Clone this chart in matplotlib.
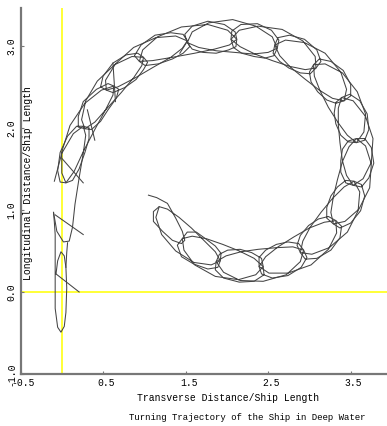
#!/usr/bin/env python

import matplotlib
matplotlib.use("Agg")
import matplotlib.pyplot as plt
from matplotlib.transforms import ScaledTranslation

# all positions in ship lengths
# straight approach along x = 0 before the rudder takes effect
approach_x = [-0.07, -0.05, -0.01, 0.03, 0.05, 0.06, 0.05, 0.03, -0.01, -0.05,
              -0.08, -0.08, -0.08, -0.08, -0.09, -0.10]
approach_y = [0.22, 0.38, 0.49, 0.44, 0.30, 0.05, -0.25, -0.42, -0.49, -0.43,
              -0.20, 0.10, 0.45, 0.70, 0.85, 0.97]

# second strand of the approach column
strand_x = [0.05, 0.06, 0.07]
strand_y = [0.30, 0.48, 0.60]

# turning circle, clockwise, one yaw loop per row (loops on the outer side)
turn_x = [
    -0.10, -0.06, 0.02, 0.09, 0.13, 0.16, 0.21, 0.26, 0.29, 0.26, 0.18, 0.07,
    -0.02, -0.05, -0.02, 0.05, 0.15, 0.26, 0.40, 0.53, 0.62, 0.63, 0.56, 0.42,
    0.26, 0.20, 0.20, 0.28, 0.40, 0.55, 0.72, 0.87, 0.97, 0.99, 0.92, 0.78,
    0.62, 0.50, 0.47, 0.54, 0.68, 0.89, 1.11, 1.32, 1.46, 1.52, 1.47, 1.32,
    1.13, 0.96, 0.88, 0.94, 1.10, 1.34, 1.61, 1.85, 2.03, 2.12, 2.10, 1.97,
    1.77, 1.58, 1.49, 1.52, 1.66, 1.87, 2.10, 2.32, 2.50, 2.61, 2.63, 2.54,
    2.37, 2.17, 2.06, 2.05, 2.16, 2.34, 2.55, 2.76, 2.95, 3.08, 3.14, 3.09,
    2.94, 2.76, 2.62, 2.58, 2.64, 2.77, 2.94, 3.12, 3.28, 3.42, 3.50, 3.50,
    3.41, 3.26, 3.12, 3.05, 3.06, 3.13, 3.23, 3.35, 3.46, 3.57, 3.67, 3.72,
    3.70, 3.61, 3.49, 3.39, 3.35, 3.35, 3.37, 3.40, 3.45, 3.53, 3.63, 3.72,
    3.78, 3.75, 3.67, 3.57, 3.48, 3.40, 3.34, 3.29, 3.26, 3.29, 3.37, 3.50,
    3.62, 3.67, 3.63, 3.54, 3.42, 3.28, 3.14, 3.01, 2.92, 2.89, 2.95, 3.09,
    3.26, 3.37, 3.39, 3.32, 3.18, 3.00, 2.81, 2.62, 2.47, 2.39, 2.42, 2.55,
    2.74, 2.90, 2.97, 2.93, 2.80, 2.60, 2.38, 2.17, 1.99, 1.87, 1.86, 1.96,
    2.15, 2.33, 2.45, 2.44, 2.33, 2.15, 1.95, 1.75, 1.58, 1.46, 1.40, 1.45,
    1.60, 1.77, 1.89, 1.92, 1.86, 1.72, 1.57, 1.42, 1.28, 1.18, 1.11, 1.11,
    1.22, 1.34, 1.45, 1.49, 1.46, 1.38, 1.28, 1.15, 1.05,
]
turn_y = [
    0.97, 0.74, 0.61, 0.62, 0.79, 1.07, 1.39, 1.69, 1.91, 2.02, 2.02, 1.90,
    1.70, 1.48, 1.34, 1.33, 1.47, 1.71, 1.98, 2.22, 2.40, 2.51, 2.54, 2.47,
    2.32, 2.14, 2.01, 1.99, 2.07, 2.24, 2.43, 2.61, 2.76, 2.86, 2.91, 2.89,
    2.79, 2.63, 2.50, 2.46, 2.50, 2.61, 2.74, 2.86, 2.97, 3.06, 3.14, 3.16,
    3.13, 3.01, 2.88, 2.81, 2.82, 2.86, 2.91, 2.96, 3.01, 3.08, 3.17, 3.26,
    3.30, 3.24, 3.14, 3.04, 2.98, 2.94, 2.92, 2.90, 2.92, 2.97, 3.07, 3.19,
    3.27, 3.26, 3.18, 3.08, 2.99, 2.90, 2.82, 2.75, 2.71, 2.73, 2.81, 2.95,
    3.08, 3.13, 3.10, 3.01, 2.88, 2.74, 2.60, 2.46, 2.36, 2.33, 2.39, 2.53,
    2.70, 2.81, 2.84, 2.77, 2.63, 2.45, 2.25, 2.06, 1.91, 1.82, 1.85, 1.98,
    2.17, 2.33, 2.41, 2.37, 2.24, 2.04, 1.82, 1.60, 1.42, 1.30, 1.28, 1.39,
    1.57, 1.76, 1.87, 1.87, 1.77, 1.59, 1.37, 1.16, 0.97, 0.83, 0.78, 0.84,
    0.99, 1.17, 1.31, 1.35, 1.28, 1.14, 0.97, 0.79, 0.62, 0.48, 0.40, 0.41,
    0.51, 0.66, 0.80, 0.87, 0.85, 0.78, 0.67, 0.55, 0.43, 0.31, 0.22, 0.17,
    0.20, 0.30, 0.42, 0.51, 0.55, 0.54, 0.52, 0.49, 0.44, 0.37, 0.27, 0.17,
    0.12, 0.13, 0.21, 0.31, 0.41, 0.50, 0.58, 0.65, 0.68, 0.65, 0.57, 0.43,
    0.34, 0.28, 0.30, 0.38, 0.49, 0.63, 0.78, 0.91, 1.01, 1.04, 0.98, 0.86,
    0.74, 0.63, 0.59, 0.63, 0.74, 0.90, 1.08, 1.15, 1.18,
]

# the other traced point of the hull (loops on the inner side)
turn2_x = [
    -0.09, 0.00, 0.14, 0.26, 0.33, 0.33,
    0.28, 0.21, 0.13, 0.05, 0.00, 0.00, 0.10, 0.28, 0.48, 0.63, 0.69, 0.66,
    0.56, 0.47, 0.36, 0.28, 0.24, 0.29, 0.43, 0.64, 0.85, 0.99, 1.04, 0.99,
    0.90, 0.76, 0.62, 0.54, 0.53, 0.65, 0.87, 1.14, 1.38, 1.52, 1.55, 1.47,
    1.34, 1.17, 1.01, 0.94, 0.98, 1.16, 1.45, 1.77, 2.01, 2.12, 2.11, 2.02,
    1.87, 1.71, 1.58, 1.52, 1.58, 1.78, 2.07, 2.35, 2.55, 2.61, 2.57, 2.46,
    2.33, 2.18, 2.08, 2.05, 2.15, 2.38, 2.67, 2.92, 3.07, 3.08, 3.01, 2.89,
    2.75, 2.64, 2.56, 2.58, 2.71, 2.94, 3.19, 3.38, 3.45, 3.42, 3.32, 3.21,
    3.10, 3.02, 3.00, 3.05, 3.19, 3.40, 3.58, 3.68, 3.66, 3.57, 3.47, 3.38,
    3.32, 3.30, 3.32, 3.39, 3.53, 3.68, 3.77, 3.75, 3.65, 3.53, 3.44, 3.38,
    3.38, 3.40, 3.47, 3.57, 3.68, 3.75, 3.73, 3.60, 3.43, 3.29, 3.21, 3.21,
    3.26, 3.34, 3.44, 3.54, 3.61, 3.59, 3.46, 3.24, 3.03, 2.89, 2.85, 2.89,
    2.99, 3.11, 3.23, 3.32, 3.33, 3.23, 3.02, 2.74, 2.51, 2.39, 2.39, 2.47,
    2.60, 2.74, 2.87, 2.93, 2.89, 2.72, 2.44, 2.16, 1.96, 1.87, 1.91, 2.01,
    2.16, 2.30, 2.42, 2.44, 2.35, 2.14, 1.86, 1.61, 1.48, 1.46, 1.52, 1.63,
    1.74, 1.86, 1.93, 1.92, 1.81, 1.60, 1.38, 1.21, 1.14, 1.18,
]
turn2_y = [
    1.35, 1.69, 1.93, 2.02, 2.00, 1.87,
    1.70, 1.50, 1.36, 1.33, 1.45, 1.71, 2.03, 2.30, 2.46, 2.51, 2.47, 2.36,
    2.22, 2.08, 1.98, 1.99, 2.10, 2.33, 2.57, 2.77, 2.87, 2.86, 2.80, 2.71,
    2.59, 2.49, 2.43, 2.46, 2.58, 2.78, 2.98, 3.10, 3.12, 3.06, 2.99, 2.91,
    2.84, 2.78, 2.76, 2.81, 2.95, 3.11, 3.23, 3.26, 3.19, 3.08, 2.99, 2.95,
    2.91, 2.92, 2.96, 3.04, 3.17, 3.28, 3.32, 3.24, 3.11, 2.97, 2.88, 2.85,
    2.87, 2.91, 2.98, 3.08, 3.19, 3.24, 3.20, 3.06, 2.87, 2.73, 2.66, 2.67,
    2.73, 2.81, 2.91, 3.01, 3.07, 3.04, 2.91, 2.68, 2.47, 2.33, 2.30, 2.34,
    2.44, 2.56, 2.68, 2.77, 2.78, 2.67, 2.44, 2.17, 1.95, 1.82, 1.83, 1.91,
    2.05, 2.18, 2.31, 2.37, 2.33, 2.14, 1.87, 1.58, 1.38, 1.30, 1.33, 1.46,
    1.60, 1.74, 1.84, 1.87, 1.78, 1.56, 1.27, 1.01, 0.86, 0.83, 0.90, 1.03,
    1.17, 1.28, 1.36, 1.35, 1.22, 0.99, 0.73, 0.54, 0.46, 0.48, 0.57, 0.69,
    0.81, 0.89, 0.92, 0.87, 0.72, 0.52, 0.33, 0.23, 0.23, 0.31, 0.42, 0.51,
    0.58, 0.61, 0.59, 0.51, 0.37, 0.21, 0.13, 0.14, 0.24, 0.37, 0.46, 0.51,
    0.52, 0.48, 0.41, 0.31, 0.21, 0.15, 0.19, 0.33, 0.51, 0.65, 0.73, 0.73,
    0.65, 0.56, 0.47, 0.38, 0.33, 0.36, 0.50, 0.70, 0.91, 1.04,
]

# heading marks (start, end)
head_x0 = [-0.07, -0.08, 0.00, 0.31, 0.62, 1.53]
head_y0 = [0.22, 0.94, 1.63, 2.22, 2.79, 3.07]
head_x1 = [0.21, 0.26, 0.26, 0.40, 0.65, 1.43]
head_y1 = [0.00, 0.70, 1.33, 1.85, 2.32, 2.91]

xticks = [-0.5, 0.5, 1.5, 2.5, 3.5]
yticks = [-1.0, 0.0, 1.0, 2.0, 3.0]


def main():
    mono = "Liberation Mono"
    track = "#444444"
    axis_grey = "#777777"

    fig = plt.figure(figsize=(3.87, 4.26), dpi=100)
    ax = fig.add_axes((0.053, 0.122, 0.947, 0.859))
    ax.set_xlim(-0.5, 3.94)
    ax.set_ylim(-1.0, 3.46)

    ax.axvline(0, color="#ffff00", lw=1.1, zorder=1)
    ax.axhline(0, color="#ffff00", lw=1.1, zorder=1)

    ax.plot(approach_x, approach_y, color=track, lw=0.75)
    ax.plot(strand_x, strand_y, color=track, lw=0.75)
    ax.plot(turn_x, turn_y, color=track, lw=0.75)
    ax.plot(turn2_x, turn2_y, color=track, lw=0.75)
    for x0, y0, x1, y1 in zip(head_x0, head_y0, head_x1, head_y1):
        ax.plot([x0, x1], [y0, y1], color=track, lw=0.75)

    for s in ["top", "right"]:
        ax.spines[s].set_visible(False)
    for s in ["left", "bottom"]:
        ax.spines[s].set_color(axis_grey)
        ax.spines[s].set_linewidth(1.6)

    ax.set_xticks(xticks)
    ax.set_xticklabels([f"{t:.1f}" for t in xticks], fontfamily=mono, fontsize=7)
    ax.set_yticks(yticks)
    ax.set_yticklabels([f"{t:.1f}" for t in yticks], fontfamily=mono, fontsize=7,
                       rotation=90, va="center")
    ax.tick_params(direction="in", length=2, color=axis_grey, pad=3)
    # labels sit a little right of their ticks in the original
    shift = ScaledTranslation(3 / 100, 0, fig.dpi_scale_trans)
    for lab in ax.get_xticklabels():
        lab.set_transform(lab.get_transform() + shift)

    fig.text(28 / 387, 1 - 183 / 426, "Longitudinal Distance/Ship Length",
             rotation=90, ha="center", va="center", fontfamily=mono, fontsize=7)
    fig.text(228 / 387, 1 - 398 / 426, "Transverse Distance/Ship Length",
             ha="center", va="center", fontfamily=mono, fontsize=7)
    fig.text(247 / 387, 1 - 418 / 426, "Turning Trajectory of the Ship in Deep Water",
             ha="center", va="center", fontfamily=mono, fontsize=6.5)

    fig.savefig("out.png", dpi=100)


if __name__ == "__main__":
    main()
